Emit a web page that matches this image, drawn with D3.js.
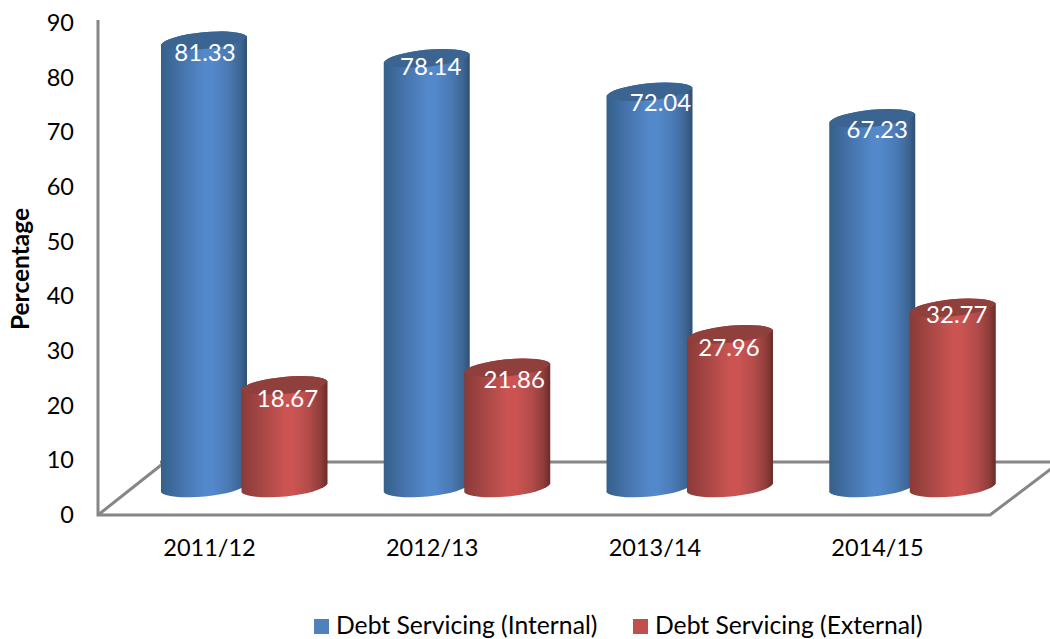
<!DOCTYPE html>
<html><head><meta charset="utf-8">
<script src="https://cdn.jsdelivr.net/npm/d3@7"></script>
<style>html,body{margin:0;padding:0;background:#fff}svg{display:block}text{font-family:Lato,"Open Sans",sans-serif}</style>
</head><body><svg id="c" width="1050" height="639"></svg>
<script>
const categories = ["2011/12","2012/13","2013/14","2014/15"];
const seriesNames = ["Debt Servicing (Internal)","Debt Servicing (External)"];
const internal = [81.33,78.14,72.04,67.23];
const external = [18.67,21.86,27.96,32.77];
const yTicks = [0,10,20,30,40,50,60,70,80,90];
const labelNudgeX = [[1,4,11,5],[3,7,-1,4]];
const labelNudgeY = [[12,8,11,11],[13,12,13,7]];
const palette = [
  {id:"blue",stops:["#35608a","#4674ad","#5388ca","#5388ca","#4a7ab5","#3d6694","#2f4f74"],top:"#3c6491",key:"#4f81bd"},
  {id:"red",stops:["#8a3a38","#a94846","#cb5452","#cb5452","#b34c4a","#8f3d3b","#6a2b29"],top:"#8f3f3c",key:"#c0504d"}
];
const stopOffsets = [0,.25,.5,.6,.78,.92,1];
const svg = d3.select("#c");
const font = 25;
const grey = "#868686";

// gradients
const defs = svg.append("defs");
palette.forEach(p=>{
  const g = defs.append("linearGradient").attr("id",p.id).attr("x1",0).attr("x2",1).attr("y1",0).attr("y2",0);
  p.stops.forEach((s,i)=>g.append("stop").attr("offset",stopOffsets[i]).attr("stop-color",s));
});

// scales
const yAxisScale = d3.scaleLinear().domain([0,90]).range([514,22]);
const yBar = d3.scaleLinear().domain([0,90]).range([488,-7]);
const xCat = d3.scaleBand().domain(categories).range([98,989]).padding(0);
const groupOffset = i => i===0 ? 63 : 143.5;
const barW = 86, rx = 43.5, ry = 9.6, tilt = -5.5;
const dy = rx*Math.sin(-tilt*Math.PI/180);

// floor and walls
const frame = svg.append("g").attr("fill","none").attr("stroke",grey).attr("stroke-width",3);
const floorY = yAxisScale(0)+1, backY = 462;
const line = d3.line();
frame.append("path").attr("d",line([[98,yAxisScale(90)-2],[98,floorY],[990,floorY],[1060,backY]])).attr("stroke-linejoin","miter");
frame.append("path").attr("d",line([[98,floorY],[165,backY]]));
frame.append("path").attr("d",line([[160,backY],[1050,backY]]));

// axes
const yAxis = d3.axisLeft(yAxisScale).tickValues(yTicks).tickSize(0).tickPadding(0);
const yg = svg.append("g").attr("transform","translate(74,0)").call(yAxis);
const xAxis = d3.axisBottom(d3.scalePoint().domain(categories).range([209,877])).tickSize(0).tickPadding(0);
const xg = svg.append("g").attr("transform","translate(0,548)").call(xAxis);
[yg,xg].forEach(g=>{g.select(".domain").remove();g.selectAll("text").attr("font-size",font-1.5).attr("fill","#000").style("font-family","Lato,sans-serif");});
xg.selectAll("text").attr("dy","0.32em");
yg.selectAll("text").attr("dy","0.36em");

svg.append("text").attr("transform","translate(29,269) rotate(-90)").attr("text-anchor","middle")
  .attr("font-size",24.5).attr("font-weight",700).attr("fill","#000").text("Percentage");

// cylinders
const rows = [internal,external];
categories.forEach((c,ci)=>{
  rows.forEach((vals,si)=>{
    const v = vals[ci];
    const x0 = xCat(c)+groupOffset(si), x1 = x0+barW, cx = x0+barW/2;
    const yt = yBar(v), yb = yBar(0);
    const p = palette[si];
    const g = svg.append("g");
    const arc = (x,y,sweep)=>`A${rx},${ry} ${tilt} 0 ${sweep} ${x},${y}`;
    g.append("path").attr("fill",`url(#${p.id})`)
      .attr("d",`M${x0},${yt+dy}L${x0},${yb+dy}${arc(x1,yb-dy,0)}L${x1},${yt-dy}${arc(x0,yt+dy,0)}Z`);
    g.append("path").attr("fill",p.top)
      .attr("d",`M${x0},${yt+dy}${arc(x1,yt-dy,1)}${arc(x0,yt+dy,1)}Z`);
    g.append("text").attr("x",cx+labelNudgeX[si][ci]).attr("y",yt+labelNudgeY[si][ci]).attr("dy","0.35em")
      .attr("text-anchor","middle").attr("font-size",font-1).attr("fill","#fff").text(v.toFixed(2));
  });
});

// legend
const legendX = d3.scaleOrdinal().domain(seriesNames).range([314,633]);
seriesNames.forEach((n,i)=>{
  svg.append("rect").attr("x",legendX(n)).attr("y",619).attr("width",15).attr("height",15).attr("fill",palette[i].key);
  svg.append("text").attr("x",legendX(n)+22).attr("y",634).attr("font-size",24.7).attr("fill","#000").text(n);
});
</script></body></html>
